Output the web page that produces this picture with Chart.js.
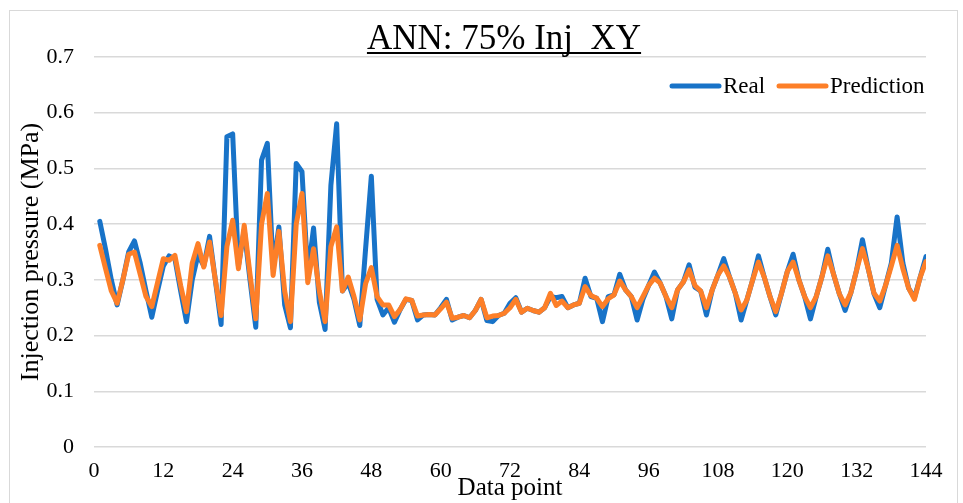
<!DOCTYPE html>
<html>
<head>
<meta charset="utf-8">
<script src="https://cdn.jsdelivr.net/npm/chart.js@4/dist/chart.umd.min.js"></script>
<style>
  html, body { margin: 0; padding: 0; background: #fff; }
  #wrap { position: relative; width: 963px; height: 503px; }
</style>
</head>
<body>
<div id="wrap"><canvas id="myChart" width="963" height="503"></canvas></div>
<script>
// data
const chartTitle = 'ANN: 75% Inj_XY'
const seriesNames = ['Real', 'Prediction']
const xTicks = [0, 12, 24, 36, 48, 60, 72, 84, 96, 108, 120, 132, 144]
const yTicks = [0, 0.1, 0.2, 0.3, 0.4, 0.5, 0.6, 0.7]

const real = [
  0.405, 0.355, 0.300, 0.255, 0.300, 0.350, 0.370, 0.330, 0.280, 0.233, 0.280, 0.325,
  0.343, 0.338, 0.280, 0.225, 0.300, 0.345, 0.325, 0.378, 0.300, 0.220, 0.557, 0.562,
  0.325, 0.390, 0.300, 0.215, 0.515, 0.545, 0.320, 0.395, 0.255, 0.214, 0.509, 0.494,
  0.310, 0.393, 0.260, 0.211, 0.470, 0.580, 0.280, 0.295, 0.265, 0.218, 0.355, 0.486,
  0.265, 0.237, 0.250, 0.224, 0.247, 0.265, 0.263, 0.228, 0.237, 0.238, 0.237, 0.250,
  0.265, 0.228, 0.233, 0.236, 0.232, 0.245, 0.265, 0.227, 0.225, 0.236, 0.240, 0.258,
  0.268, 0.242, 0.249, 0.245, 0.242, 0.250, 0.270, 0.268, 0.270, 0.250, 0.255, 0.258,
  0.303, 0.270, 0.267, 0.225, 0.270, 0.273, 0.310, 0.282, 0.270, 0.228, 0.265, 0.290,
  0.314, 0.294, 0.270, 0.230, 0.282, 0.296, 0.327, 0.287, 0.280, 0.237, 0.282, 0.309,
  0.338, 0.305, 0.276, 0.228, 0.264, 0.300, 0.343, 0.305, 0.270, 0.237, 0.276, 0.315,
  0.346, 0.300, 0.270, 0.230, 0.270, 0.306, 0.355, 0.310, 0.275, 0.245, 0.277, 0.318,
  0.372, 0.320, 0.275, 0.250, 0.290, 0.330, 0.413, 0.330, 0.285, 0.268, 0.305, 0.342
]

const prediction = [
  0.362, 0.320, 0.280, 0.258, 0.300, 0.346, 0.350, 0.310, 0.270, 0.252, 0.295, 0.338,
  0.335, 0.344, 0.290, 0.243, 0.330, 0.365, 0.323, 0.368, 0.300, 0.236, 0.360, 0.407,
  0.320, 0.398, 0.310, 0.230, 0.400, 0.455, 0.308, 0.387, 0.280, 0.225, 0.400, 0.455,
  0.295, 0.356, 0.280, 0.225, 0.360, 0.395, 0.280, 0.305, 0.270, 0.228, 0.293, 0.322,
  0.270, 0.255, 0.255, 0.234, 0.247, 0.266, 0.263, 0.235, 0.237, 0.238, 0.237, 0.248,
  0.260, 0.231, 0.233, 0.236, 0.232, 0.245, 0.265, 0.232, 0.235, 0.236, 0.240, 0.250,
  0.265, 0.242, 0.249, 0.245, 0.242, 0.250, 0.276, 0.254, 0.262, 0.250, 0.255, 0.258,
  0.288, 0.272, 0.267, 0.252, 0.266, 0.273, 0.298, 0.282, 0.270, 0.250, 0.270, 0.290,
  0.303, 0.294, 0.270, 0.250, 0.282, 0.296, 0.318, 0.290, 0.280, 0.250, 0.282, 0.309,
  0.325, 0.305, 0.276, 0.246, 0.264, 0.300, 0.332, 0.305, 0.270, 0.243, 0.276, 0.315,
  0.332, 0.300, 0.270, 0.250, 0.270, 0.306, 0.343, 0.310, 0.275, 0.255, 0.277, 0.318,
  0.356, 0.320, 0.276, 0.262, 0.290, 0.325, 0.362, 0.320, 0.285, 0.265, 0.305, 0.333
]

// data point numbers 1..144
const dataPoints = real.map((v, i) => i + 1)

const blueColor = '#1873c8'
const orangeColor = '#fd7f28'
const serif = '"Liberation Serif", "Times New Roman", serif'

function toXY(values) {
  return values.map((v, i) => ({ x: dataPoints[i], y: v }))
}

// title, legend and frame drawn by hand so they can sit where Excel put them
const decorPlugin = {
  id: 'decor',
  afterDraw(chart) {
    const ctx = chart.ctx
    ctx.save()

    // chart frame
    ctx.strokeStyle = '#d9d9d9'
    ctx.lineWidth = 1
    ctx.strokeRect(9.5, 10.5, 948, 500)

    // underlined title
    ctx.fillStyle = '#000'
    ctx.font = '35px ' + serif
    ctx.textAlign = 'center'
    ctx.textBaseline = 'alphabetic'
    const tx = 504, ty = 49
    ctx.fillText(chartTitle, tx, ty)
    const w = ctx.measureText(chartTitle).width
    ctx.fillRect(tx - w / 2, ty + 3, w, 2)

    // legend inside the plot
    const colors = [blueColor, orangeColor]
    const starts = [669, 776]
    ctx.font = '23px ' + serif
    ctx.textAlign = 'left'
    ctx.textBaseline = 'middle'
    ctx.lineCap = 'round'
    ctx.lineWidth = 5
    seriesNames.forEach((name, i) => {
      ctx.strokeStyle = colors[i]
      ctx.beginPath()
      ctx.moveTo(starts[i] + 3, 86)
      ctx.lineTo(starts[i] + 50, 86)
      ctx.stroke()
      ctx.fillText(name, starts[i] + 54, 87)
    })
    ctx.restore()
  }
}

const ctx = document.getElementById('myChart')

new Chart(ctx, {
  type: 'line',
  data: {
    datasets: [{
      label: seriesNames[0],
      data: toXY(real),
      borderColor: blueColor,
      backgroundColor: blueColor,
      borderWidth: 5,
      borderJoinStyle: 'round',
      borderCapStyle: 'round',
      pointRadius: 0,
      tension: 0,
      order: 2
    }, {
      label: seriesNames[1],
      data: toXY(prediction),
      borderColor: orangeColor,
      backgroundColor: orangeColor,
      borderWidth: 5,
      borderJoinStyle: 'round',
      borderCapStyle: 'round',
      pointRadius: 0,
      tension: 0,
      order: 1
    }]
  },
  options: {
    responsive: false,
    animation: false,
    layout: { padding: { left: 16, right: 37, top: 57, bottom: 0 } },
    plugins: {
      legend: { display: false },
      title: { display: false },
      tooltip: { enabled: false }
    },
    scales: {
      x: {
        type: 'linear',
        min: xTicks[0],
        max: xTicks[xTicks.length - 1],
        afterBuildTicks: (scale) => { scale.ticks = xTicks.map(v => ({ value: v })) },
        afterFit: (scale) => { scale.height = 56 },
        grid: { display: false, drawTicks: false },
        border: { display: false },
        ticks: {
          color: '#000',
          padding: 11,
          maxRotation: 0,
          font: { family: serif, size: 22 }
        },
        title: {
          display: true,
          text: 'Data point',
          color: '#000',
          padding: 0,
          font: { family: serif, size: 25 }
        }
      },
      y: {
        min: yTicks[0],
        max: yTicks[yTicks.length - 1],
        afterBuildTicks: (scale) => { scale.ticks = yTicks.map(v => ({ value: v })) },
        afterFit: (scale) => { scale.width = 78 },
        grid: { color: '#d9d9d9', lineWidth: 1.5, drawTicks: false },
        border: { display: false },
        ticks: {
          color: '#000',
          padding: 20,
          font: { family: serif, size: 22 },
          callback: (v) => String(+v.toFixed(1))
        },
        title: {
          display: true,
          text: 'Injection pressure (MPa)',
          color: '#000',
          padding: 0,
          font: { family: serif, size: 26 }
        }
      }
    }
  },
  plugins: [decorPlugin]
})
</script>
</body>
</html>
